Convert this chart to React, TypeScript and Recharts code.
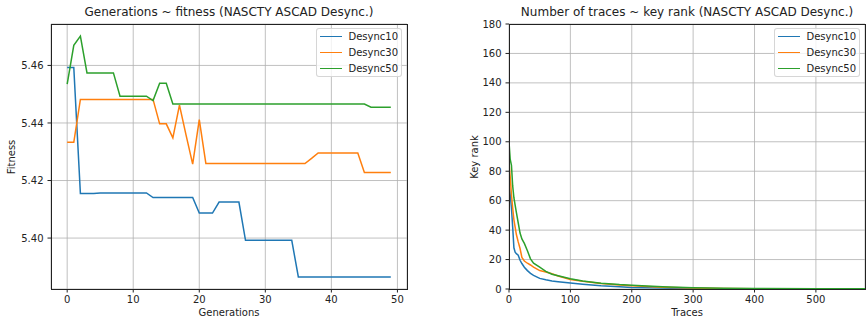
import { LineChart, Line, XAxis, YAxis, CartesianGrid } from 'recharts'

// left panel: best fitness per generation
const generations = [
    0, 1, 2, 3, 4, 5, 6, 7, 8, 9, 10, 11, 12, 13, 14, 15, 16, 17, 18, 19, 20, 21, 22, 23, 24,
    25, 26, 27, 28, 29, 30, 31, 32, 33, 34, 35, 36, 37, 38, 39, 40, 41, 42, 43, 44, 45, 46, 47, 48, 49,
]
const fitness10 = [
    5.4593, 5.4593, 5.4155, 5.4155, 5.4155, 5.4157, 5.4157, 5.4157, 5.4157, 5.4157, 5.4157, 5.4157, 5.4157,
    5.4141, 5.4141, 5.4141, 5.4141, 5.4141, 5.4141, 5.4141, 5.4087, 5.4087, 5.4087, 5.4125, 5.4125, 5.4125,
    5.4125, 5.3992, 5.3992, 5.3992, 5.3992, 5.3992, 5.3992, 5.3992, 5.3992, 5.3865, 5.3865, 5.3865, 5.3865,
    5.3865, 5.3865, 5.3865, 5.3865, 5.3865, 5.3865, 5.3865, 5.3865, 5.3865, 5.3865, 5.3865,
]
const fitness30 = [
    5.4333, 5.4333, 5.4482, 5.4482, 5.4482, 5.4482, 5.4482, 5.4482, 5.4482, 5.4482, 5.4482, 5.4482, 5.4482,
    5.4482, 5.4397, 5.4397, 5.4348, 5.4462, 5.4358, 5.4257, 5.4412, 5.4259, 5.4259, 5.4259, 5.4259, 5.4259,
    5.4259, 5.4259, 5.4259, 5.4259, 5.4259, 5.4259, 5.4259, 5.4259, 5.4259, 5.4259, 5.4259, 5.4277, 5.4296,
    5.4296, 5.4296, 5.4296, 5.4296, 5.4296, 5.4296, 5.4228, 5.4228, 5.4228, 5.4228, 5.4228,
]
const fitness50 = [
    5.4535, 5.467, 5.4702, 5.4574, 5.4574, 5.4574, 5.4574, 5.4574, 5.4493, 5.4493, 5.4493, 5.4493, 5.4493,
    5.4478, 5.4538, 5.4538, 5.4466, 5.4466, 5.4466, 5.4466, 5.4466, 5.4466, 5.4466, 5.4466, 5.4466, 5.4466,
    5.4466, 5.4466, 5.4466, 5.4466, 5.4466, 5.4466, 5.4466, 5.4466, 5.4466, 5.4466, 5.4466, 5.4466, 5.4466,
    5.4466, 5.4466, 5.4466, 5.4466, 5.4466, 5.4466, 5.4466, 5.4455, 5.4455, 5.4455, 5.4455,
]
const genTicks = [0, 10, 20, 30, 40, 50]
const fitnessTicks = [5.4, 5.42, 5.44, 5.46]

// right panel: key rank vs number of attack traces
const traces = [0, 2, 4, 6, 8, 10, 12, 15, 18, 21, 25, 30, 35, 40, 50, 60, 70, 80, 100, 120, 150, 180, 200, 250, 300, 350, 400, 500, 580]
const rank10 = [72, 64, 55, 42, 28, 25, 24, 23, 19.5, 17.3, 14.8, 12.5, 10.6, 9.3, 7.2, 6.3, 5.5, 5, 4.1, 3.3, 2.2, 1.6, 1.1, 0.6, 0.3, 0.2, 0.1, 0, 0]
const rank30 = [86, 76, 64, 55, 47, 42, 37, 32, 27.5, 21.5, 19, 17.5, 16.3, 14.8, 12.5, 11.5, 10.3, 8.8, 6.5, 5.2, 3.7, 2.8, 2.2, 1.2, 0.6, 0.3, 0.2, 0.1, 0]
const rank50 = [100, 88, 84, 70, 62, 57, 52, 45, 38, 34, 31, 26, 20.5, 17.5, 14.8, 12, 10, 9, 7, 5.5, 3.9, 3, 2.6, 1.6, 0.9, 0.5, 0.3, 0.2, 0.1]
const traceTicks = [0, 100, 200, 300, 400, 500]
const rankTicks = [0, 20, 40, 60, 80, 100, 120, 140, 160, 180]

const seriesNames = ['Desync10', 'Desync30', 'Desync50']
const colors = ['#1f77b4', '#ff7f0e', '#2ca02c']

const fitnessData = generations.map((g, i) => ({ g, d10: fitness10[i], d30: fitness30[i], d50: fitness50[i] }))
const rankData = traces.map((t, i) => ({ t, d10: rank10[i], d30: rank30[i], d50: rank50[i] }))

const FONT = '"DejaVu Sans", sans-serif'
const TEXT = '#222'
const tickStyle = { fontSize: 10, fill: TEXT, fontFamily: FONT }

// drawn as an overlay: a recharts Legend would push the plot area down
function LegendBox({ left }: { left: number }) {
    return (
        <div style={{ position: 'absolute', left, top: 28, width: 86, height: 49, boxSizing: 'border-box', border: '1px solid rgba(204,204,204,0.8)', borderRadius: 3, background: 'rgba(255,255,255,0.8)', fontFamily: FONT, fontSize: 10, color: TEXT }}>
            {seriesNames.map((name, i) => (
                <div key={name}>
                    <div style={{ position: 'absolute', left: 2.5, top: 6.5 + i * 16, width: 22, height: 1.5, background: colors[i] }} />
                    <div style={{ position: 'absolute', left: 31.5, top: 1.5 + i * 16, lineHeight: '12px', whiteSpace: 'nowrap' }}>{name}</div>
                </div>
            ))}
        </div>
    )
}

type PanelProps = {
    left: number
    title: string
    xLabel: string
    yLabel: string
    yLabelX: number
    plotLeft: number
    plotRight: number
    data: object[]
    xKey: string
    xDomain: [number, number]
    xTicks: number[]
    yDomain: [number, number]
    yTicks: number[]
    yFormat: (v: number) => string
    legendLeft: number
}

function Panel(p: PanelProps) {
    const w = 433
    return (
        <div style={{ position: 'absolute', left: p.left, top: 0, width: w, height: 321 }}>
            <LineChart width={w} height={321} data={p.data} margin={{ top: 24, right: w - p.plotRight, bottom: 0, left: 0 }}>
                <CartesianGrid stroke="#b0b0b0" strokeWidth={0.8} />
                <XAxis dataKey={p.xKey} type="number" domain={p.xDomain} ticks={p.xTicks} allowDataOverflow
                    height={32} axisLine={false} tickSize={3.5} tickMargin={3} stroke={TEXT} tick={tickStyle} />
                <YAxis type="number" domain={p.yDomain} ticks={p.yTicks} allowDataOverflow width={p.plotLeft}
                    axisLine={false} tickSize={3.5} tickMargin={4} stroke={TEXT} tick={tickStyle} tickFormatter={p.yFormat} />
                {['d10', 'd30', 'd50'].map((k, i) => (
                    <Line key={k} dataKey={k} type="linear" stroke={colors[i]} strokeWidth={1.5} dot={false} isAnimationActive={false} />
                ))}
            </LineChart>
            <div style={{ position: 'absolute', left: p.plotLeft, top: 24, width: p.plotRight - p.plotLeft + 1, height: 266, boxSizing: 'border-box', border: `1px solid ${TEXT}`, pointerEvents: 'none' }} />
            <LegendBox left={p.legendLeft} />
            <div style={{ position: 'absolute', left: p.plotLeft, width: p.plotRight - p.plotLeft, top: 5, textAlign: 'center', fontFamily: FONT, fontSize: 12, color: TEXT, whiteSpace: 'nowrap' }}>{p.title}</div>
            <div style={{ position: 'absolute', left: p.plotLeft, width: p.plotRight - p.plotLeft, top: 307, textAlign: 'center', fontFamily: FONT, fontSize: 10, color: TEXT }}>{p.xLabel}</div>
            <div style={{ position: 'absolute', left: p.yLabelX - 50, top: 156.5 - 6, width: 100, height: 12, lineHeight: '12px', textAlign: 'center', transform: 'rotate(-90deg)', fontFamily: FONT, fontSize: 10, color: TEXT }}>{p.yLabel}</div>
        </div>
    )
}

export default function App() {
    return (
        <div style={{ position: 'absolute', left: 0, top: 0, width: 866, height: 321, background: '#fff' }}>
            <Panel left={0} title="Generations ~ fitness (NASCTY ASCAD Desync.)" xLabel="Generations" yLabel="Fitness"
                yLabelX={12} plotLeft={51} plotRight={407} data={fitnessData} xKey="g" xDomain={[-2.45, 51.45]} xTicks={genTicks}
                yDomain={[5.3823, 5.4744]} yTicks={fitnessTicks} yFormat={(v) => v.toFixed(2)} legendLeft={316} />
            <Panel left={433} title="Number of traces ~ key rank (NASCTY ASCAD Desync.)" xLabel="Traces" yLabel="Key rank"
                yLabelX={41.5} plotLeft={76} plotRight={432} data={rankData} xKey="t" xDomain={[0, 580]} xTicks={traceTicks}
                yDomain={[0, 180]} yTicks={rankTicks} yFormat={(v) => String(v)} legendLeft={341} />
        </div>
    )
}
